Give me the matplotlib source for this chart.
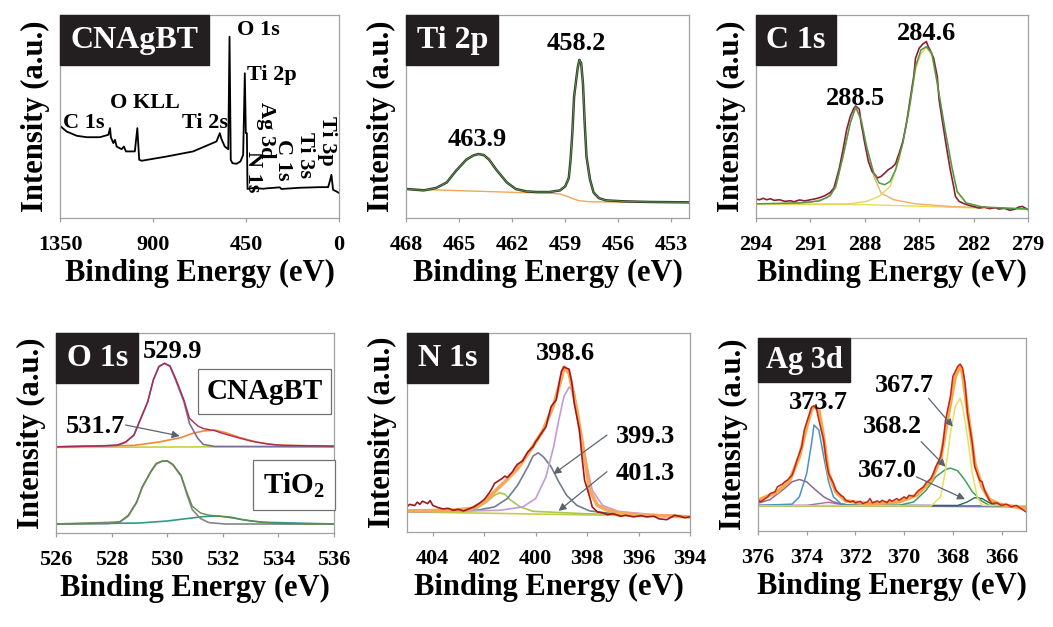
import matplotlib
matplotlib.use("Agg")
from matplotlib import pyplot as plt
from matplotlib.offsetbox import AnchoredText

plt.rcParams['font.family'] = ['Liberation Serif', 'DejaVu Serif']
plt.rcParams['font.weight'] = 'bold'
plt.rcParams['mathtext.fontset'] = 'custom'
plt.rcParams['mathtext.rm'] = 'Liberation Serif:bold'
plt.rcParams['mathtext.bf'] = 'Liberation Serif:bold'

# ---------------- survey (CNAgBT) ----------------
survey_be = [1350, 1318, 1269, 1221, 1157, 1116, 1108, 1104, 1092, 1084, 1076, 1052, 1041, 1031,
             988, 976, 967, 955, 834, 706, 593, 577, 569, 553, 536, 530, 524, 516, 496, 477, 464,
             456, 451, 446, 443, 416, 367, 351, 287, 279, 190, 93, 53, 45, 37, 29, 13, 0]
survey_int = [45.4, 42.6, 40.5, 39.8, 39.8, 41.0, 44.3, 39.8, 36.9, 38.5, 35.2, 33.9, 35.2, 32.8,
              32.8, 44.3, 28.7, 28.2, 30.3, 32.8, 37.7, 41.8, 38.9, 35.2, 33.9, 89.3, 28.7, 27.0,
              26.7, 27.9, 31.1, 71.3, 41.8, 41.8, 14.3, 14.8, 14.4, 14.6, 15.1, 14.3, 14.9, 15.2,
              15.2, 18.0, 21.3, 13.9, 13.1, 12.3]
survey_ticks = [1350, 900, 450, 0]

# ---------------- Ti 2p ----------------
ti_be = [468.0, 467.0, 466.3, 465.7, 465.2, 464.6, 464.2, 463.9, 463.6, 463.3, 462.9, 462.3, 461.8,
         461.2, 460.6, 459.9, 459.3, 459.0, 458.8, 458.7, 458.6, 458.5, 458.3, 458.2, 458.1, 458.0,
         457.9, 457.8, 457.6, 457.4, 457.1, 456.7, 455.7, 454.2, 452.0]
ti_int = [14.3, 13.6, 14.8, 17.5, 23.0, 28.7, 30.8, 31.5, 31.0, 28.7, 23.8, 17.5, 14.3, 13.1, 12.8,
          12.8, 13.6, 15.6, 19.7, 28.7, 41.8, 59.8, 73.8, 77.9, 76.2, 66.4, 46.7, 30.3, 18.9, 12.6,
          9.8, 8.7, 8.2, 7.9, 7.7]
ti_bg_be = [468, 465.5, 463.6, 461.8, 459.9, 459.3, 458.9, 458.5, 458.2, 457.6, 456.1, 452]
ti_bg_int = [14.3, 13.6, 13.1, 12.6, 12.3, 11.8, 10.7, 9.3, 8.5, 8.0, 7.9, 7.7]
ti_ticks = [468, 465, 462, 459, 456, 453]

# ---------------- C 1s ----------------
c_raw_be = [294.0, 293.8, 293.6, 293.4, 293.2, 293.0, 292.7, 292.4, 292.1, 291.9, 291.6, 291.3,
            291.0, 290.8, 290.5, 290.2, 289.9, 289.7, 289.6, 289.4, 289.2, 289.0, 288.8, 288.6,
            288.5, 288.3, 288.2, 288.0, 287.8, 287.6, 287.4, 287.3, 287.1, 286.9, 286.7, 286.5,
            286.3, 286.2, 286.1, 285.9, 285.7, 285.5, 285.3, 285.2, 285.0, 284.8, 284.6, 284.5,
            284.4, 284.2, 284.0, 283.9, 283.7, 283.5, 283.3, 283.1, 283.0, 282.8, 282.5, 282.2,
            281.9, 281.7, 281.4, 281.1, 280.8, 280.6, 280.3, 280.0, 279.7, 279.5, 279.3, 279.0]
c_raw_int = [9.3, 9.0, 9.7, 9.0, 9.5, 8.7, 9.0, 8.2, 8.5, 8.0, 8.9, 8.4, 9.0, 9.3, 10.0, 11.0, 12.6,
             14.8, 18.0, 24.6, 33.6, 43.4, 50.0, 54.1, 55.2, 53.6, 46.7, 36.9, 27.9, 23.0, 21.0, 19.7,
             20.5, 22.1, 23.8, 24.9, 26.7, 29.5, 32.0, 37.7, 46.7, 58.2, 69.7, 78.7, 83.6, 85.7, 86.9,
             84.4, 82.8, 78.7, 69.7, 58.2, 46.7, 35.2, 24.6, 15.6, 10.7, 8.2, 7.0, 6.1, 5.4, 4.9, 5.4,
             4.6, 5.1, 4.4, 4.8, 3.8, 4.4, 5.4, 5.7, 4.1]
c_env_be = [294, 291.6, 290.5, 289.9, 289.6, 289.2, 288.8, 288.5, 288.2, 287.9, 287.5, 287.2, 286.9,
            286.6, 286.3, 285.9, 285.5, 285.2, 284.9, 284.6, 284.3, 284.0, 283.6, 283.2, 282.9,
            282.4, 281.5, 279.0]
c_env_int = [7.0, 7.4, 8.4, 11.0, 15.6, 30.3, 46.7, 54.6, 48.4, 35.2, 22.1, 17.2, 16.4, 18.0, 23.8,
             36.9, 56.6, 74.6, 82.8, 84.4, 81.1, 66.4, 45.1, 25.4, 13.1, 7.4, 5.4, 4.4]
c_p1_be = [294, 291.0, 290.1, 289.6, 289.2, 288.8, 288.5, 288.2, 287.9, 287.5, 287.1, 286.4, 285.2,
           283.3, 279.0]
c_p1_int = [6.7, 7.7, 9.8, 14.8, 30.3, 46.7, 54.6, 48.4, 35.2, 20.5, 12.3, 9.0, 7.0, 5.7, 4.4]
c_p2_be = [294, 288.8, 287.9, 287.2, 286.6, 286.1, 285.6, 285.2, 284.9, 284.6, 284.3, 284.0, 283.6,
           283.2, 282.9, 282.4, 281.5, 279.0]
c_p2_int = [6.7, 7.0, 8.2, 10.7, 15.6, 28.7, 50.0, 73.0, 81.1, 84.1, 80.3, 65.6, 44.3, 24.6, 12.3,
            7.4, 5.4, 4.4]
c_bg_be = [294, 288, 285, 282, 279]
c_bg_int = [6.7, 6.6, 5.8, 5.0, 4.4]
c_ticks = [294, 291, 288, 285, 282, 279]

# ---------------- O 1s ----------------
o_env_be = [526.0, 527.6, 528.2, 528.5, 528.8, 529.0, 529.3, 529.5, 529.7, 529.9, 530.1, 530.3,
            530.6, 530.8, 531.1, 531.3, 531.7, 532.0, 532.4, 533.0, 533.6, 534.2, 536.0]
o_env_int = [43.1, 43.5, 44.0, 45.5, 49.0, 55.7, 65.7, 76.6, 83.3, 84.9, 83.6, 77.4, 66.6, 57.4,
             53.5, 52.2, 51.2, 49.8, 48.2, 46.0, 44.5, 43.8, 43.5]
o_main_be = [526.0, 528.2, 528.5, 528.8, 529.0, 529.3, 529.5, 529.7, 529.9, 530.1, 530.3, 530.6,
             530.8, 531.1, 531.3, 531.7, 536.0]
o_main_int = [43.1, 43.8, 45.3, 48.8, 55.5, 65.6, 76.4, 83.1, 84.8, 83.3, 76.6, 65.7, 54.8, 47.3,
              44.3, 43.3, 43.1]
o_sec_be = [526, 528.8, 529.7, 530.5, 530.9, 531.3, 531.7, 532.1, 532.6, 533.2, 533.9, 536]
o_sec_int = [43.1, 43.8, 45.5, 47.7, 49.8, 51.0, 51.5, 50.2, 47.8, 45.5, 44.0, 43.3]
o_bg_be = [526, 536]
o_bg_int = [42.8, 43.3]
tio_env_be = [526, 527.9, 528.3, 528.6, 528.9, 529.1, 529.4, 529.6, 529.8, 530.0, 530.2, 530.5,
              530.7, 530.9, 531.2, 531.5, 531.9, 532.4, 533.0, 533.6, 534.2, 536]
tio_env_int = [4.5, 4.7, 5.7, 8.9, 15.6, 23.1, 30.6, 34.8, 35.9, 36.1, 34.4, 28.9, 20.6, 13.4,
               10.0, 8.9, 8.4, 7.4, 6.0, 5.2, 4.7, 4.5]
tio_main_be = [526, 528.3, 528.6, 528.9, 529.1, 529.4, 529.6, 529.8, 530.0, 530.2, 530.5, 530.7,
               530.9, 531.2, 531.5, 532.1, 536]
tio_main_int = [4.5, 5.5, 8.5, 15.2, 22.7, 30.3, 34.4, 35.8, 36.0, 34.1, 28.4, 19.7, 11.7, 7.2,
                5.2, 4.5, 4.5]
tio_sec_be = [526, 529.0, 530.0, 530.7, 531.3, 531.8, 532.3, 532.7, 533.4, 536]
tio_sec_int = [4.5, 5.0, 6.0, 7.2, 8.2, 8.5, 7.9, 6.7, 5.4, 4.5]
o_ticks = [526, 528, 530, 532, 534, 536]

# ---------------- N 1s ----------------
n_raw_be = [405.0, 404.9, 404.7, 404.6, 404.5, 404.4, 404.2, 404.1, 404.0, 403.8, 403.6, 403.4,
            403.2, 403.0, 402.8, 402.6, 402.4, 402.2, 402.0, 401.8, 401.7, 401.6, 401.4, 401.3,
            401.2, 401.1, 400.9, 400.8, 400.7, 400.5, 400.4, 400.3, 400.1, 400.0, 399.9, 399.8,
            399.6, 399.5, 399.4, 399.2, 399.1, 399.0, 398.9, 398.7, 398.6, 398.5, 398.3, 398.2,
            398.1, 397.9, 397.8, 397.6, 397.4, 397.2, 397.0, 396.7, 396.5, 396.2, 395.9, 395.7,
            395.4, 395.2, 394.9, 394.6, 394.4, 394.2, 394.0]
n_raw_int = [12.6, 13.9, 13.3, 15.0, 13.9, 15.5, 14.3, 15.8, 13.4, 12.3, 11.6, 11.9, 10.9, 11.4,
             10.6, 11.6, 12.6, 14.3, 16.3, 19.7, 21.8, 24.4, 26.1, 26.9, 28.1, 27.4, 30.3, 32.4,
             34.1, 35.8, 38.2, 40.3, 42.9, 45.4, 47.1, 49.2, 52.9, 58.0, 63.0, 66.4, 73.9, 80.7,
             82.9, 81.8, 75.6, 64.7, 51.3, 37.8, 26.1, 17.6, 12.6, 10.1, 9.6, 8.7, 9.2, 7.9, 8.4,
             7.6, 8.2, 7.6, 7.9, 6.6, 6.2, 8.4, 7.9, 7.2, 7.6]
n_env_be = [405, 403.3, 402.5, 402.0, 401.6, 401.2, 400.7, 400.2, 399.7, 399.3, 399.0, 398.9,
            398.7, 398.4, 398.1, 397.9, 397.6, 397.2, 396.6, 395.6, 394]
n_env_int = [10.6, 10.9, 11.8, 15.1, 20.2, 25.2, 31.9, 41.2, 51.3, 63.9, 77.3, 82.9, 79.8, 61.3,
             37.8, 21.0, 13.4, 10.9, 9.2, 8.4, 7.6]
n_p1_be = [405, 401.4, 400.5, 400.0, 399.6, 399.3, 399.1, 398.9, 398.7, 398.5, 398.4, 398.2, 398.0,
           397.8, 397.4, 396.8, 395.6, 394]
n_p1_int = [10.1, 10.9, 12.6, 16.8, 27.7, 42.9, 56.3, 68.1, 72.8, 70.6, 61.3, 46.2, 32.8, 21.0,
            13.4, 10.4, 8.9, 7.9]
n_p2_be = [405, 402.3, 401.6, 401.1, 400.7, 400.3, 400.1, 399.9, 399.7, 399.4, 399.1, 398.8,
           398.4, 397.9, 396.8, 394]
n_p2_int = [10.1, 10.9, 12.6, 16.8, 23.5, 32.8, 38.2, 39.8, 37.8, 32.8, 25.2, 18.5, 13.4, 10.6,
            8.9, 7.9]
n_p3_be = [405, 402.8, 402.3, 401.9, 401.6, 401.4, 401.2, 401.0, 400.6, 400.1, 398.1, 394]
n_p3_int = [10.1, 10.4, 11.8, 15.1, 18.5, 19.7, 19.0, 16.3, 12.6, 10.4, 9.2, 8.1]
n_bg_be = [405, 398, 394]
n_bg_int = [10.1, 8.6, 7.6]
n_ticks = [404, 402, 400, 398, 396, 394]

# ---------------- Ag 3d ----------------
ag_raw_be = [376.0, 375.9, 375.7, 375.6, 375.5, 375.3, 375.2, 375.0, 374.9, 374.8, 374.6, 374.5,
             374.4, 374.2, 374.1, 373.9, 373.8, 373.7, 373.6, 373.5, 373.3, 373.2, 373.1, 372.9,
             372.8, 372.6, 372.5, 372.4, 372.2, 372.1, 372.0, 371.8, 371.7, 371.5, 371.4, 371.3,
             371.1, 371.0, 370.9, 370.7, 370.6, 370.5, 370.3, 370.2, 370.0, 369.9, 369.8, 369.6,
             369.5, 369.4, 369.2, 369.1, 368.9, 368.8, 368.7, 368.5, 368.4, 368.3, 368.1, 368.0,
             367.8, 367.7, 367.6, 367.5, 367.4, 367.2, 367.1, 366.9, 366.8, 366.7, 366.5, 366.4,
             366.2, 366.0, 365.8, 365.6, 365.4, 365.2, 365.0]
ag_raw_int = [16.3, 15.1, 16.8, 17.7, 19.4, 20.3, 22.9, 24.3, 25.5, 26.3, 28.9, 32.4, 36.7, 43.7,
              52.3, 60.1, 64.1, 64.8, 63.6, 57.5, 47.1, 36.7, 29.8, 24.6, 21.1, 18.5, 17.7, 15.9,
              15.1, 15.6, 14.6, 15.4, 14.2, 15.1, 16.8, 14.6, 15.6, 14.9, 15.9, 14.7, 16.3, 15.4,
              16.8, 15.9, 17.7, 16.8, 18.5, 18.0, 19.8, 21.1, 22.9, 25.0, 27.2, 29.8, 33.3, 38.5,
              45.4, 57.5, 69.7, 80.1, 85.3, 86.5, 84.4, 76.6, 61.0, 45.4, 33.3, 26.3, 25.5, 21.1,
              15.9, 14.2, 14.6, 13.3, 13.9, 12.5, 13.3, 11.6, 9.9]
ag_env_be = [376.0, 375.2, 374.7, 374.3, 374.0, 373.8, 373.7, 373.5, 373.3, 373.1, 372.8, 372.4,
             371.5, 370.2, 369.5, 368.9, 368.5, 368.2, 367.9, 367.7, 367.6, 367.4, 367.1, 366.8,
             366.5, 366.1, 365.0]
ag_env_int = [15.9, 20.3, 26.3, 38.5, 54.1, 63.1, 64.5, 62.7, 48.0, 29.8, 20.3, 15.6, 14.2, 15.1,
              18.5, 26.0, 37.6, 59.3, 80.1, 85.6, 81.8, 62.7, 35.0, 22.9, 16.3, 13.9, 11.6]
ag_blue_be = [376, 374.6, 374.3, 374.0, 373.8, 373.7, 373.5, 373.3, 373.1, 372.9, 372.6, 372.2, 365]
ag_blue_int = [13.3, 13.9, 17.7, 29.8, 45.4, 54.9, 52.3, 38.5, 25.5, 17.7, 14.2, 13.3, 13.0]
ag_broad_be = [376, 375.5, 375.0, 374.6, 374.3, 374.0, 373.7, 373.3, 372.9, 372.5, 371.8, 365]
ag_broad_int = [14.4, 16.3, 21.1, 25.5, 26.7, 25.5, 22.0, 17.7, 15.1, 13.7, 13.2, 13.0]
ag_small_be = [376, 374.0, 373.5, 373.1, 372.8, 372.2, 365]
ag_small_int = [13.2, 13.3, 14.2, 14.9, 14.2, 13.3, 13.0]
ag_yel_be = [376, 368.9, 368.5, 368.3, 368.1, 367.9, 367.7, 367.6, 367.4, 367.2, 367.0, 366.8, 365]
ag_yel_int = [13.0, 13.0, 17.7, 31.5, 50.6, 64.5, 68.8, 64.5, 48.9, 29.8, 17.7, 13.3, 13.0]
ag_grn_be = [376, 370.2, 369.6, 369.1, 368.7, 368.3, 368.1, 367.8, 367.5, 367.2, 366.8, 366.5, 365]
ag_grn_int = [13.0, 13.3, 15.1, 21.1, 28.1, 31.9, 32.6, 31.2, 26.3, 20.3, 15.4, 13.3, 13.0]
ag_dg_be = [376, 367.8, 367.4, 367.1, 366.8, 366.5, 366.2, 365]
ag_dg_int = [13.0, 13.2, 15.1, 17.3, 16.8, 14.6, 13.0, 12.8]
ag_bg_be = [376, 365]
ag_bg_int = [13.2, 12.6]
ag_ticks = [376, 374, 372, 370, 368, 366]

SERIF = 'Liberation Serif'

fig = plt.figure(figsize=(10.53, 6.27), dpi=100)
ax1 = fig.add_axes([0.0570, 0.6523, 0.2650, 0.3238])
ax2 = fig.add_axes([0.3856, 0.6523, 0.2688, 0.3238])
ax3 = fig.add_axes([0.7179, 0.6523, 0.2583, 0.3238])
ax4 = fig.add_axes([0.0532, 0.1499, 0.2640, 0.3190])
ax5 = fig.add_axes([0.3865, 0.1515, 0.2688, 0.3174])
ax6 = fig.add_axes([0.7198, 0.1531, 0.2545, 0.3078])


def style(ax, xlim, ticks):
    ax.set_xlim(*xlim)
    ax.set_ylim(0, 100)
    ax.set_xticks(ticks)
    ax.set_xticklabels([str(t) for t in ticks])
    ax.set_yticks([])
    for s in ax.spines.values():
        s.set_color('#a0a0a0')
        s.set_linewidth(0.9)
    ax.tick_params(axis='x', direction='out', length=3, color='#a0a0a0', width=0.9,
                   labelsize=16, pad=9)
    for lab in ax.get_xticklabels():
        lab.set_fontweight('bold')
    ax.set_xlabel('Binding Energy (eV)', fontsize=22, fontweight='bold', labelpad=3)
    ax.set_ylabel('Intensity (a.u.)', fontsize=22, fontweight='bold', labelpad=7)


def title_box(ax, txt, size=23, pad=0.33):
    at = AnchoredText(txt, loc='upper left', pad=pad, borderpad=0, frameon=True,
                      prop=dict(color='white', size=size, weight='bold', family=SERIF))
    at.patch.set_facecolor('#231f20')
    at.patch.set_edgecolor('#231f20')
    at.patch.set_boxstyle('square,pad=0')
    at.set_zorder(5)
    ax.add_artist(at)


def arrow(ax, xy, xytext):
    ax.annotate('', xy=xy, xytext=xytext,
                arrowprops=dict(arrowstyle='-|>', color='#5a6470', lw=0.9,
                                mutation_scale=11, shrinkA=0, shrinkB=0))


# survey
ax1.plot(survey_be, survey_int, color='black', lw=1.3)
style(ax1, (1350, 0), survey_ticks)
title_box(ax1, 'CNAgBT')
ax1.text(1336, 47, 'C 1s', fontsize=16, ha='left', va='center')
ax1.text(1108, 56.6, 'O KLL', fontsize=16, ha='left', va='center')
ax1.text(760, 47, 'Ti 2s', fontsize=16, ha='left', va='center')
ax1.text(494, 92.4, 'O 1s', fontsize=16, ha='left', va='center')
ax1.text(445, 70.4, 'Ti 2p', fontsize=16, ha='left', va='center')
for lab, x, y in [('Ag 3d', 352, 43), ('N 1s', 418, 23), ('C 1s', 271, 28.6),
                  ('Ti 3s', 165, 31), ('Ti 3p', 58, 38)]:
    ax1.text(x, y, lab, fontsize=16, rotation=-90, ha='center', va='center')

# Ti 2p
ax2.plot(ti_bg_be, ti_bg_int, color='#f2a65a', lw=1.0)
ax2.plot(ti_be, ti_int, color='#2e3a2a', lw=1.8)
ax2.plot(ti_be, ti_int, color='#5f9a48', lw=0.6)
style(ax2, (468, 452), ti_ticks)
title_box(ax2, 'Ti 2p')
ax2.text(464.0, 38.5, '463.9', fontsize=19, ha='center', va='center')
ax2.text(458.4, 86, '458.2', fontsize=19, ha='center', va='center')

# C 1s
ax3.plot(c_bg_be, c_bg_int, color='#e8dc5a', lw=1.0)
ax3.plot(c_p1_be, c_p1_int, color='#f0b060', lw=1.0)
ax3.plot(c_p2_be, c_p2_int, color='#e8d45a', lw=1.0)
ax3.plot(c_raw_be, c_raw_int, color='#8e1f3c', lw=1.2)
ax3.plot(c_env_be, c_env_int, color='#4f9a4a', lw=1.1)
style(ax3, (294, 279), c_ticks)
title_box(ax3, 'C 1s')
ax3.text(288.5, 59, '288.5', fontsize=19, ha='center', va='center')
ax3.text(284.6, 91, '284.6', fontsize=19, ha='center', va='center')

# O 1s
ax4.plot(o_bg_be, o_bg_int, color='#c8d040', lw=1.2)
ax4.plot(o_sec_be, o_sec_int, color='#f08a3a', lw=1.2)
ax4.plot(o_main_be, o_main_int, color='#7a6e96', lw=1.2)
ax4.plot(o_env_be, o_env_int, color='#b02858', lw=1.0)
ax4.plot(tio_sec_be, tio_sec_int, color='#2f9a86', lw=1.2)
ax4.plot(tio_main_be, tio_main_int, color='#858585', lw=1.2)
ax4.plot(tio_env_be, tio_env_int, color='#5f8a48', lw=1.0)
style(ax4, (526, 536), o_ticks)
title_box(ax4, 'O 1s')
ax4.text(530.2, 90.8, '529.9', fontsize=19, ha='center', va='center')
ax4.text(527.4, 53.2, '531.7', fontsize=19, ha='center', va='center')
arrow(ax4, (530.45, 48.5), (528.5, 54.0))
ax4.text(533.5, 70.7, 'CNAgBT', fontsize=21, ha='center', va='center',
         bbox=dict(boxstyle='square,pad=0.3', fc='white', ec='#707070', lw=0.9))
ax4.text(534.55, 23.9, r'TiO$_2$', fontsize=21, ha='center', va='center',
         bbox=dict(boxstyle='square,pad=0.35', fc='white', ec='#707070', lw=0.9))

# N 1s
ax5.plot(n_bg_be, n_bg_int, color='#c8d040', lw=1.2)
ax5.plot(n_p3_be, n_p3_int, color='#a8c850', lw=1.2)
ax5.plot(n_p2_be, n_p2_int, color='#6f7f8f', lw=1.2)
ax5.plot(n_p1_be, n_p1_int, color='#c49ad6', lw=1.2)
ax5.plot(n_env_be, n_env_int, color='#f6a858', lw=2.6)
ax5.plot(n_raw_be, n_raw_int, color='#a3161c', lw=1.2)
style(ax5, (405, 394), n_ticks)
title_box(ax5, 'N 1s')
ax5.text(398.85, 89.9, '398.6', fontsize=19, ha='center', va='center')
ax5.text(395.75, 48.2, '399.3', fontsize=19, ha='center', va='center')
ax5.text(395.75, 29.4, '401.3', fontsize=19, ha='center', va='center')
arrow(ax5, (399.31, 29.1), (397.23, 48.7))
arrow(ax5, (399.11, 10.6), (397.23, 30.3))

# Ag 3d
ax6.plot(ag_bg_be, ag_bg_int, color='#c44868', lw=1.2)
ax6.plot(ag_small_be, ag_small_int, color='#c060a8', lw=1.0)
ax6.plot(ag_broad_be, ag_broad_int, color='#8a6a8c', lw=1.1)
ax6.plot(ag_blue_be, ag_blue_int, color='#4a92c4', lw=1.1)
ax6.plot(ag_dg_be, ag_dg_int, color='#1f6f4f', lw=1.0)
ax6.plot(ag_grn_be, ag_grn_int, color='#3fa060', lw=1.1)
ax6.plot(ag_yel_be, ag_yel_int, color='#e6e060', lw=1.1)
ax6.plot(ag_env_be, ag_env_int, color='#f6a848', lw=2.6)
ax6.plot(ag_raw_be, ag_raw_int, color='#c42424', lw=1.1)
style(ax6, (376, 365), ag_ticks)
title_box(ax6, 'Ag 3d', size=22, pad=0.25)
ax6.text(373.5, 66.8, '373.7', fontsize=19, ha='center', va='center')
ax6.text(370.0, 75.2, '367.7', fontsize=19, ha='center', va='center')
ax6.text(370.5, 54.1, '368.2', fontsize=19, ha='center', va='center')
ax6.text(370.7, 31.5, '367.0', fontsize=19, ha='center', va='center')
arrow(ax6, (368.0, 54.1), (369.0, 68.8))
arrow(ax6, (368.3, 33.3), (369.3, 46.3))
arrow(ax6, (367.5, 16.5), (369.5, 28.1))

fig.savefig('out.png', dpi=100)
